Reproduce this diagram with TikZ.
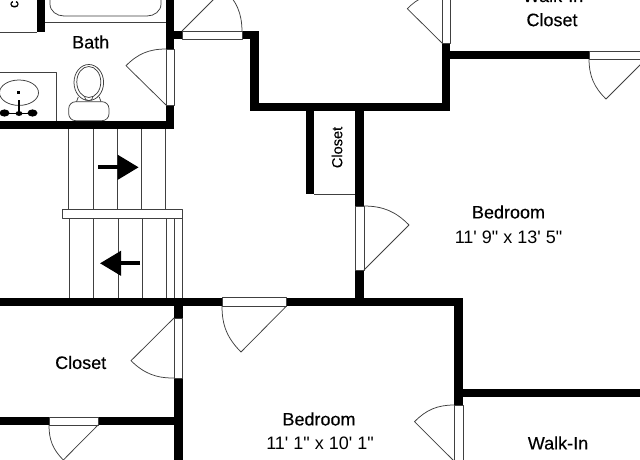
\documentclass[tikz,border=0pt]{standalone}
\usepackage{fontspec}
\newfontfamily\roomfont[FakeBold=0.35]{Liberation Sans}
\newfontfamily\sizefont{Liberation Sans}
\usetikzlibrary{arrows.meta}
\tikzset{
	wall/.style={line width=8.4pt, line cap=butt, line join=miter},
	thinline/.style={line width=.75pt, draw=black!75},
	doorbox/.style={line width=.75pt, draw=black!75, fill=white},
	roomlabel/.style={font=\roomfont\fontsize{18}{20}\selectfont, inner sep=0pt},
	sizelabel/.style={font=\sizefont\fontsize{18}{20}\selectfont, inner sep=0pt},
	smalllabel/.style={font=\roomfont\fontsize{14.6}{16}\selectfont, inner sep=0pt, rotate=90},
	stairarrow/.style={line width=4pt, -{Triangle[length=21pt,width=24pt]}},
}
\begin{document}
\begin{tikzpicture}[x=1pt, y=-1pt, line join=round, >=stealth]
	\useasboundingbox (0,0) rectangle (640,460);
	\clip (0,0) rectangle (640,460);
	\fill[white] (0,0) rectangle (640,460);
	% walls
	\draw[wall] (41,-5)--(41,32);
	\draw[wall] (170,-5)--(170,49) (170,105)--(170,125)--(-5,125);
	\draw[wall] (166,35)--(182,35) (242,35)--(254.5,35)--(254.5,106.7)--(446,106.7)--(446,43);
	\draw[wall] (446,55)--(589,55);
	\draw[wall] (310,106)--(310,194) (359.5,106)--(359.5,206) (359.5,270)--(359.5,302);
	\draw[wall] (-5,302)--(222,302) (286,302)--(458.3,302)--(458.3,405);
	\draw[wall] (178.5,302)--(178.5,318) (178.5,378)--(178.5,465);
	\draw[wall] (-5,421)--(49,421) (98,421)--(178,421);
	\draw[wall] (458,393)--(645,393);
	% thin room lines
	\draw[thinline] (-5,32)--(37,32) (45,22.5)--(166,22.5) (314,194)--(355,194);
	\draw[thinline] (50,-5)--(50,4) to[out=-90,in=180] (64,16)--(147,16) to[out=0,in=-90] (161,4)--(161,-5);
	% stairs
	\foreach \x in {68.7,93,117.3,141.7,165.7} \draw[thinline] (\x,129)--(\x,209);
	\foreach \x in {69,93.3,118,142,166,174,182} \draw[thinline] (\x,218)--(\x,298);
	\draw[doorbox] (62.3,209.3) rectangle (182.3,218);
	\draw[stairarrow] (98,167.3)--(138.7,167.3);
	\draw[stairarrow] (140,263.3)--(100,263.3);
	% doors
	\foreach \xa/\ya/\xb/\yb in {166/49/174/105, 182/31/242/39, 355.5/206/364/270, 442/-5/450/43, 589/51/650/59, 174/318/182.5/378, 222/297.5/286.5/306, 49/417/98/425, 454/405/463/470}
		\draw[doorbox] (\xa,\ya) rectangle (\xb,\yb);
	\foreach \hx/\hy/\tx/\ty/\ex/\ey/\bnd in {166/105/126/65.7/166/49/22.5, 182/31/224/-11/242/31/22.5, 364/270/409/225/364/206/-22.5, 442/43/407.3/8.7/442/-6/22.5, 646/59/606/99/589/59/22.5, 174/318/131/360.7/174/378/-22.5, 286.5/306/241/352/222/306/22.5, 98/425/63.3/460/49/425/22.5, 454/461/414.5/421.7/454/405/22.5}
		\draw[thinline] (\hx,\hy)--(\tx,\ty) to[bend left=\bnd] (\ex,\ey);
	% sink
	\draw[thinline] (-5,72)--(56,72)--(56,121);
	\draw[thinline] (19,92.7) ellipse [x radius=19.5, y radius=12.7];
	\fill (17.2,91.2) rectangle (20.4,94.4);
	\draw[line width=1.6pt] (19,100)--(19,114);
	\draw[line width=1.6pt] (5,113.5)--(33,113.5);
	\fill (4.5,113) ellipse [x radius=5, y radius=3.6];
	\fill (32.5,113) ellipse [x radius=5, y radius=3.6];
	\fill (19,113.5) ellipse [x radius=3.5, y radius=2.4];
	% toilet
	\draw[thinline] (88.8,82.5) ellipse [x radius=14.8, y radius=18];
	\draw[thinline] (88.8,82) ellipse [x radius=12, y radius=15.5];
	\draw[thinline] (84.5,96.5) to[out=-90,in=-90,looseness=1.7] (93,96.5);
	\draw[thinline] (78.3,97)--(76.5,101.7) (99.3,97)--(101,101.7);
	\draw[thinline, rounded corners=7pt] (68.7,101.7) rectangle (109,120.7);
	% labels
	\node[roomlabel] (bath) at (90.7,42) {Bath};
	\node[roomlabel] (closetA) at (80.7,362.5) {Closet};
	\node[roomlabel] (closetB) at (552,19.7) {Closet};
	\node[roomlabel, anchor=base] (walkinA) at (553,2) {Walk-In};
	\node[roomlabel] (walkinB) at (558,443) {Walk-In};
	\node[roomlabel] (bedroomA) at (508.5,212) {Bedroom};
	\node[sizelabel] (sizeA) at (508.5,237) {11' 9" x 13' 5"};
	\node[roomlabel] (bedroomB) at (319,419) {Bedroom};
	\node[sizelabel] (sizeB) at (320,443) {11' 1" x 10' 1"};
	\node[smalllabel] (closetC) at (337,147.5) {Closet};
	\node[smalllabel] (letterC) at (14.5,4.4) {c};
\end{tikzpicture}
\end{document}
